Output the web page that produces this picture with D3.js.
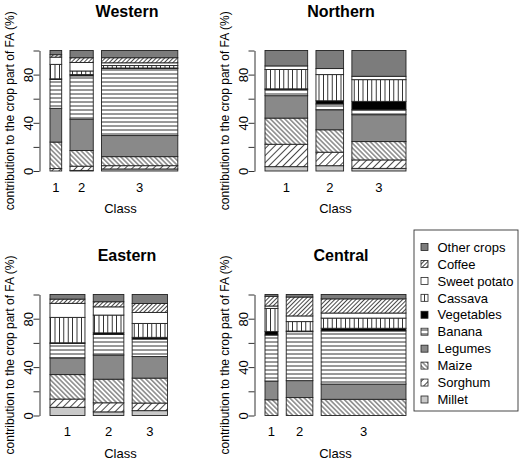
<!DOCTYPE html>
<html><head><meta charset="utf-8">
<script src="https://cdn.jsdelivr.net/npm/d3@7"></script>
<style>
body{margin:0;background:#fff}
svg{display:block}
text{font-family:"Liberation Sans",Arial,sans-serif;fill:#000}
</style>
</head><body><svg id="c" width="520" height="465"></svg>
<script>
// ---------- data ----------
const crops = ["Millet","Sorghum","Maize","Legumes","Banana","Vegetables","Cassava","Sweet potato","Coffee","Other crops"];
const classes = ["1","2","3"];
const regions = ["Western","Northern","Eastern","Central"];
const yTicks = [0,20,40,60,80,100];
const yTickLabels = [0,40,80];

// relative class sizes (bar widths, common scale)
const westernWidths  = [0.094,0.187,0.613];
const northernWidths = [0.343,0.222,0.435];
const easternWidths  = [0.281,0.246,0.284];
const centralWidths  = [0.104,0.214,0.682];

// contributions (%) in crop order: Millet ... Other crops
const westernClass1  = [0,   2,   22,   28,   24,   0.5, 12,   6,    2,    3.5];
const westernClass2  = [0.5, 3.5, 13,   26,   36,   1,   3,    7,    4,    6];
const westernClass3  = [1.7, 2.7, 7.5,  17.5, 55.6, 0.5, 2,    2.3,  4.2,  6];
const northernClass1 = [3.6, 18.6,21.7, 18.6, 5,    0.7, 16,   3,    0,    12.8];
const northernClass2 = [4.4, 11.2,18.6, 16.6, 4.8,  2.7, 21.7, 5,    0,    15];
const northernClass3 = [2.2, 7,   15.2, 22.3, 4.1,  7,   18,   2.8,  0,    21.4];
const easternClass1  = [6.8, 6.8, 20.2, 13.8, 12,   0.5, 21,   11.6, 3.5,  3.8];
const easternClass2  = [3,   7.5, 19.5, 20,   17,   1.3, 14.7, 6.8,  4.2,  6];
const easternClass3  = [4,   6.3, 20.6, 17.8, 14.5, 1.4, 11.5, 9.1,  7.4,  7.4];
const centralClass1  = [0,   0,   13,   15.5, 38,   3,   19,   2,    8,    1.5];
const centralClass2  = [0,   0,   14.8, 14,   40.5, 0.5, 7.8,  4.7,  15.6, 2.1];
const centralClass3  = [0,   0,   13.4, 12.6, 43.9, 2.2, 8.4,  4.2,  11.7, 3.6];

// ---------- setup ----------
const svg = d3.select("#c");
const defs = svg.append("defs");
const HATCH = "#1a1a1a";

function hatch(id, spacing, angle, sw){
  const p = defs.append("pattern").attr("id", id)
    .attr("patternUnits","userSpaceOnUse")
    .attr("width", spacing).attr("height", spacing)
    .attr("patternTransform", `rotate(${angle})`);
  p.append("rect").attr("width", spacing).attr("height", spacing).attr("fill","#fff");
  p.append("line").attr("x1", spacing/2).attr("y1", -1).attr("x2", spacing/2).attr("y2", spacing+1)
    .attr("stroke", HATCH).attr("stroke-width", sw);
}
hatch("p-coffee", 3, 45, 0.8);
hatch("p-cassava", 4.4, 0, 0.9);
hatch("p-banana", 4, 90, 0.9);
hatch("p-maize", 3.4, -45, 0.8);
hatch("p-sorghum", 5, 45, 0.8);

const fills = {
  "Other crops": "#7c7c7c",
  "Coffee": "url(#p-coffee)",
  "Sweet potato": "#ffffff",
  "Cassava": "url(#p-cassava)",
  "Vegetables": "#000000",
  "Banana": "url(#p-banana)",
  "Legumes": "#898989",
  "Maize": "url(#p-maize)",
  "Sorghum": "url(#p-sorghum)",
  "Millet": "#c9c9c9"
};
const color = d3.scaleOrdinal().domain(crops).range(crops.map(c => fills[c]));

const panels = [
  {name: regions[0], widths: westernWidths,  vals: [westernClass1, westernClass2, westernClass3],  axisX: 39.5, y0: 171,   y1: 50.5, titleX: 127},
  {name: regions[1], widths: northernWidths, vals: [northernClass1, northernClass2, northernClass3], axisX: 254.5, y0: 171,  y1: 50.5, titleX: 341},
  {name: regions[2], widths: easternWidths,  vals: [easternClass1, easternClass2, easternClass3],  axisX: 39.5, y0: 415.5, y1: 294.5, titleX: 127},
  {name: regions[3], widths: centralWidths,  vals: [centralClass1, centralClass2, centralClass3],  axisX: 254.5, y0: 415.5, y1: 294.5, titleX: 341}
];

const GAP = 0.0667;          // gap between bars in width units
const BAR_OFFSET = 10.5;     // px between axis and first bar
const PX_PER_UNIT = 124.4;

panels.forEach(P => {
  const g = svg.append("g");
  const x0 = P.axisX + BAR_OFFSET;
  const x = d3.scaleLinear().domain([0, 1]).range([x0, x0 + PX_PER_UNIT]);
  const y = d3.scaleLinear().domain([0,100]).range([P.y0, P.y1]);

  let acc = 0;
  const bars = classes.map((c,i) => {
    const left = acc + i*GAP;
    acc += P.widths[i];
    const row = {cls: c, left: left, right: left + P.widths[i]};
    crops.forEach((k,j) => row[k] = P.vals[i][j]);
    return row;
  });
  const series = d3.stack().keys(crops)(bars);

  series.forEach(s => {
    g.selectAll(null).data(s.filter(d => d[1] - d[0] > 0)).enter().append("rect")
      .attr("x", d => x(d.data.left))
      .attr("width", d => x(d.data.right) - x(d.data.left))
      .attr("y", d => y(d[1]))
      .attr("height", d => y(d[0]) - y(d[1]))
      .attr("fill", color(s.key))
      .attr("stroke", "#222")
      .attr("stroke-width", 0.9);
  });

  const ax = g.append("g").attr("transform", `translate(${P.axisX},0)`)
    .call(d3.axisLeft(y).tickValues(yTicks).tickSize(6).tickSizeOuter(0)
      .tickFormat(d => yTickLabels.includes(d) ? String(d) : ""));
  ax.select(".domain").attr("stroke","#333");
  ax.selectAll(".tick line").attr("stroke","#333");
  ax.selectAll(".tick text")
    .attr("transform","rotate(-90)")
    .attr("x", 0).attr("y", -6.5).attr("dy", 0)
    .attr("text-anchor","middle")
    .style("font-size","13px")
    .style("font-family",'"Liberation Sans",Arial,sans-serif')
    .attr("fill","#000");

  g.selectAll(null).data(bars).enter().append("text")
    .attr("x", d => x((d.left + d.right)/2))
    .attr("y", P.y0 + 20.5)
    .attr("text-anchor","middle")
    .style("font-size","13px")
    .text(d => d.cls);
  g.append("text").attr("x", P.axisX + 81)
    .attr("y", P.y0 + 42).attr("text-anchor","middle")
    .style("font-size","13px").text("Class");

  g.append("text")
    .attr("transform", `translate(${P.axisX - 26},${(P.y0 + P.y1)/2}) rotate(-90)`)
    .attr("text-anchor","middle")
    .style("font-size","12px")
    .text("contribution to the crop part of FA (%)");

  g.append("text").attr("x", P.titleX).attr("y", P.y1 - 34)
    .attr("text-anchor","middle")
    .style("font-size","16px").style("font-weight","bold")
    .text(P.name);
});

// ---------- legend ----------
const legendOrder = crops.slice().reverse();
const lg = svg.append("g");
lg.append("rect").attr("x", 414).attr("y", 230).attr("width", 104).attr("height", 181)
  .attr("fill","#fff").attr("stroke","#333").attr("stroke-width",0.9);
const ly = d3.scalePoint().domain(legendOrder).range([247, 399.5]);
legendOrder.forEach(k => {
  lg.append("rect").attr("x", 421).attr("y", ly(k) - 3.5).attr("width", 7).attr("height", 7)
    .attr("fill", color(k)).attr("stroke","#222").attr("stroke-width",0.8);
  lg.append("text").attr("x", 437.5).attr("y", ly(k) + 4.7)
    .style("font-size","13px").text(k);
});
</script>
</body></html>
